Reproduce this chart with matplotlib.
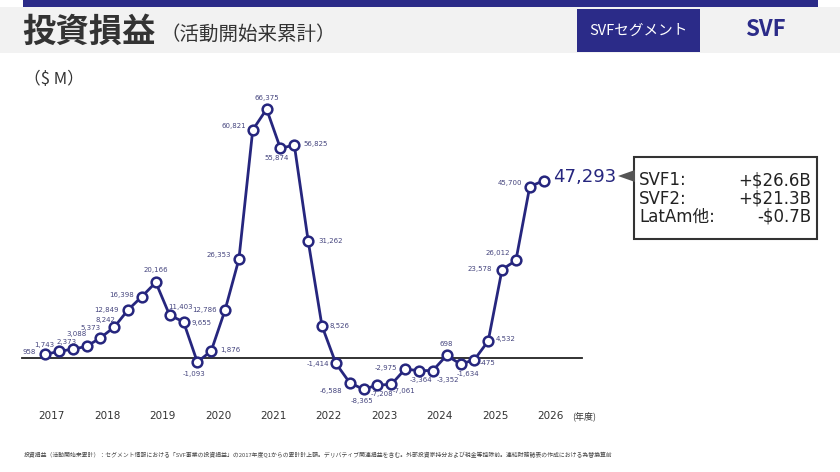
import numpy as np
import matplotlib.pyplot as plt
from matplotlib.patches import Rectangle, Polygon

plt.rcParams['font.family'] = ['Noto Sans CJK JP', 'DejaVu Sans']

# 累計投資損益 (四半期, $M) FY2017 Q1 - FY2026 Q1
values = [958, 1743, 2373, 3088, 5373, 8242, 12849, 16398,
          20166, 11403, 9655, -1093, 1876, 12786, 26353, 60821,
          66375, 55874, 56825, 31262, 8526, -1414, -6588, -8365,
          -7208, -7061, -2975, -3364, -3352, 698, -1634, -475,
          4532, 23578, 26012, 45700, 47293]
years = ['2017', '2018', '2019', '2020', '2021', '2022', '2023', '2024', '2025', '2026']
breakdown_names = ['SVF1:', 'SVF2:', 'LatAm他:']
breakdown_values = ['+$26.6B', '+$21.3B', '-$0.7B']

# label offsets in pixels (dx, dy, ha)
offsets = [(-9, 2, 'right'), (-15, 6, 'center'), (-6, 7, 'center'), (-10, 12, 'center'),
           (-10, 10, 'center'), (-9, 7, 'center'), (-9, 0, 'right'), (-8, 2, 'right'),
           (0, 12, 'center'), (11, 8, 'center'), (8, -1, 'left'), (-3, -12, 'center'),
           (9, 1, 'left'), (-8, 0, 'right'), (-8, 4, 'right'), (-7, 4, 'right'),
           (0, 11, 'center'), (-4, -10, 'center'), (9, 1, 'left'), (10, 0, 'left'),
           (8, 0, 'left'), (-7, -1, 'right'), (-7, -8, 'right'), (-2, -12, 'center'),
           (5, -9, 'center'), (13, -7, 'center'), (-8, 1, 'right'), (2, -9, 'center'),
           (15, -9, 'center'), (0, 11, 'center'), (7, -10, 'center'), (13, -3, 'center'),
           (7, 2, 'left'), (-10, 1, 'right'), (-18, 7, 'center'), (-8, 4, 'right'),
           (9, 4, 'left')]

navy = '#26267e'
label_col = '#45457e'

W, H = 840, 472
fig = plt.figure(figsize=(W / 100, H / 100), dpi=100)
ax = fig.add_axes([0, 0, 1, 1])

# pixel mapping: x_px = 45 + 13.85*i, y_px(top) = 358 - 3.75*v/1000
x0, dx = 45, 13.85
y0, sy = 358, 3.75 / 1000
ax.set_xlim(-x0 / dx, (W - x0) / dx)
ax.set_ylim(-(H - y0) / sy, y0 / sy)
ax.axis('off')

x = np.arange(len(values))
ax.plot([(22 - x0) / dx, (582 - x0) / dx], [0, 0], color='#222222', lw=1.3, zorder=1)
ax.plot(x, values, color=navy, lw=2.0, zorder=2, marker='o', markersize=7,
        markerfacecolor='white', markeredgecolor=navy, markeredgewidth=1.8)

for i, v in enumerate(values):
    ox, oy, ha = offsets[i]
    if i == len(values) - 1:
        ax.annotate(f'{v:,}', (i, v), xytext=(ox, oy), textcoords='offset pixels',
                    ha=ha, va='center', fontsize=13, color=navy,
                    family=['DejaVu Sans'])
    else:
        ax.annotate(f'{v:,}', (i, v), xytext=(ox, oy), textcoords='offset pixels',
                    ha=ha, va='center', fontsize=5.0, color=label_col,
                    family=['DejaVu Sans'])

for k, yr in enumerate(years):
    ax.text(4 * k + 0.5, -(416 - y0) / sy, yr, ha='center', va='center',
            fontsize=7.5, color='#333333', family=['DejaVu Sans'])
ax.text((584 - x0) / dx, -(416 - y0) / sy, '(年度)', ha='center', va='center',
        fontsize=6.5, color='#333333')


def fx(px):
    return px / W


def fy(py):
    return 1 - py / H


# header
fig.patches.append(Rectangle((0, fy(53)), 1, fy(7) - fy(53), transform=fig.transFigure,
                             facecolor='#f2f2f2', edgecolor='none', zorder=0))
fig.patches.append(Rectangle((fx(23), fy(7)), fx(818) - fx(23), fy(0) - fy(7),
                             transform=fig.transFigure, facecolor='#2b2b88',
                             edgecolor='none'))
fig.text(fx(22), fy(32), '投資損益', fontsize=24, color='#333333', va='center',
         ha='left', fontweight='bold')
fig.text(fx(160), fy(34), '（活動開始来累計）', fontsize=14, color='#333333',
         va='center', ha='left')
fig.patches.append(Rectangle((fx(577), fy(52)), fx(700) - fx(577), fy(9) - fy(52),
                             transform=fig.transFigure, facecolor='#2b2b88',
                             edgecolor='none'))
fig.text(fx(638), fy(31), 'SVFセグメント', fontsize=10.5, color='white',
         va='center', ha='center')
fig.text(fx(765), fy(30), 'SVF', fontsize=16, color='#2b2b88', va='center',
         ha='center', fontweight='bold')
fig.text(fx(24), fy(80), '（$ M）', fontsize=12, color='#333333', va='center',
         ha='left')

# callout box
fig.patches.append(Rectangle((fx(634), fy(239)), fx(817) - fx(634), fy(157) - fy(239),
                             transform=fig.transFigure, facecolor='white',
                             edgecolor='#333333', linewidth=1.5))
fig.patches.append(Polygon([(fx(618), fy(176)), (fx(635), fy(170)), (fx(635), fy(182))],
                           closed=True, transform=fig.transFigure,
                           facecolor='#555555', edgecolor='none'))
for k in range(len(breakdown_names)):
    yy = fy(180 + 18.5 * k)
    fig.text(fx(639), yy, breakdown_names[k], fontsize=12, color='#222222',
             va='center', ha='left', family=['DejaVu Sans', 'Noto Sans CJK JP'])
    fig.text(fx(811), yy, breakdown_values[k], fontsize=12, color='#222222',
             va='center', ha='right', family=['DejaVu Sans'])

fig.text(fx(24), fy(455),
         '投資損益（活動開始来累計）：セグメント情報における「SVF事業の投資損益」の2017年度Q1からの累計計上額。'
         'デリバティブ関連損益を含む。外部投資家持分および税金等控除前。連結財務諸表の作成における為替換算前',
         fontsize=4.2, color='#444444', va='center', ha='left')

fig.savefig('out.png', dpi=100)
